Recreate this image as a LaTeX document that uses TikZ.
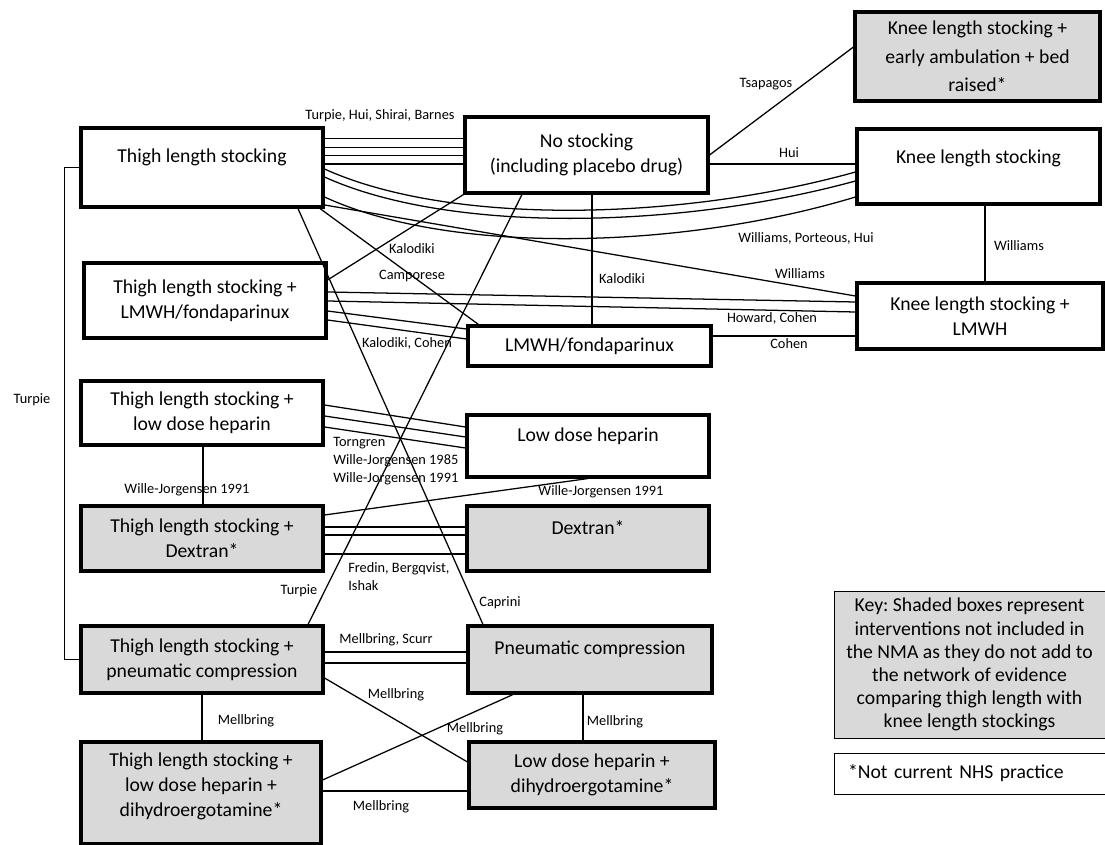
\documentclass[tikz,border=0pt]{standalone}
\usepackage{fontspec}
\setmainfont{Carlito}
\usetikzlibrary{calc}
\definecolor{shade}{HTML}{D9D9D9}
\frenchspacing
\tikzset{
	arm/.style 2 args={draw, line width=2.2pt, minimum width=#1*0.025cm, minimum height=#2*0.025cm, inner sep=0pt, align=center, font=\fontsize{14}{17.8}\selectfont},
	lift/.style={text depth=#1pt},
	lab/.style={font=\fontsize{10.2}{12.8}\selectfont, inner sep=0pt},
	link/.style={line width=0.9pt},
}
\begin{document}
\begin{tikzpicture}[x=0.025cm, y=-0.025cm]
	\useasboundingbox (0,0) rectangle (1105,845);
	% thigh length column
	\node[arm={242}{79},lift=17] (tls) at (202,167.5) {Thigh length stocking};
	\node[arm={242}{75}] (tlmwh) at (205,300.5) {Thigh length stocking +\\LMWH/fondaparinux};
	\node[arm={242}{64}] (tldh) at (202,413) {Thigh length stocking +\\low dose heparin};
	\node[arm={242}{65},fill=shade] (tdex) at (202,538.5) {Thigh length stocking +\\Dextran*};
	\node[arm={242}{67},fill=shade] (tpc) at (202,659.5) {Thigh length stocking +\\pneumatic compression};
	\node[arm={240}{102},fill=shade,lift=12] (tldhd) at (201,793) {Thigh length stocking +\\low dose heparin +\\dihydroergotamine*};
	% middle column
	\node[arm={243}{76}] (ns) at (586.5,155) {No stocking\\(including placebo drug)};
	\node[arm={243}{40}] (lmwh) at (589.5,346) {LMWH/fondaparinux};
	\node[arm={242}{62},lift=16.3] (ldh) at (588,446) {Low dose heparin};
	\node[arm={242}{65},fill=shade,lift=15.6] (dex) at (588,538.5) {Dextran*};
	\node[arm={244}{67},fill=shade,lift=17] (pc) at (590,659.5) {Pneumatic compression};
	\node[arm={246}{66},fill=shade] (ldhd) at (592,775) {Low dose heparin +\\dihydroergotamine*};
	% knee length column
	\node[arm={245}{89},fill=shade,font=\fontsize{14}{20.3}\selectfont] (kea) at (977.5,56.5) {Knee length stocking +\\early ambulation + bed\\raised*};
	\node[arm={243}{75},lift=14.2] (kls) at (978.5,166.5) {Knee length stocking};
	\node[arm={246}{66}] (klmwh) at (980,316) {Knee length stocking +\\LMWH};
	% key
	\node[arm={271}{147},fill=shade,line width=0.7pt,font=\fontsize{14}{16.4}\selectfont] (key) at (969.5,664.5) {Key: Shaded boxes represent\\interventions not included in\\the NMA as they do not add to\\the network of evidence\\comparing thigh length with\\knee length stockings};
	\node[draw,line width=0.7pt,minimum height=41*0.025cm,text width=243*0.025cm,inner xsep=14*0.025cm,inner ysep=0pt,align=left,font=\fontsize{14}{17.8}\selectfont] (nhs) at (969.5,773.5) {*Not current NHS practice};

	% connectors
	\foreach \d in {-29.2,-20.2,-11.8,-3.5}
		\draw[link] ($(tls.east)+(0,\d)$) coordinate (p) -- (p -| ns.west);
	\draw[link] ($(tls.east)+(0,1.5)$) .. controls (450,226) and (680,221) .. ($(kls.west)+(0,5.5)$);
	\draw[link] ($(tls.east)+(0,9.5)$) .. controls (450,234) and (680,229) .. ($(kls.west)+(0,14.5)$);
	\draw[link] ($(tls.east)+(0,29.5)$) .. controls (450,255) and (680,250) .. ($(kls.west)+(0,30.5)$);
	\draw[link] ($(tls.east)+(0,37.5)$) -- ($(klmwh.west)+(0,-20)$);
	\draw[link] ($(ns.east)+(0,9)$) coordinate (p) -- (p -| kls.west);
	\draw[link] (ns.east) -- ($(kea.west)+(0,-9.5)$);
	\draw[link] ($(kls.south)+(6.5,0)$) coordinate (p) -- (p |- klmwh.north);
	\draw[link] ($(ns.south)+(5.5,0)$) coordinate (p) -- (p |- lmwh.north);
	\draw[link] (ns.south west) -- ($(tlmwh.east)+(0,-20.5)$);
	\draw[link] ($(tls.south)+(118,0)$) -- ($(lmwh.north west)+(12,0)$);
	\draw[link] ($(tlmwh.east)+(0,-8.5)$) -- ($(klmwh.west)+(0,-14)$);
	\draw[link] ($(tlmwh.east)+(0,0.5)$) -- ($(klmwh.west)+(0,-4)$);
	\draw[link] ($(tlmwh.east)+(0,10.5)$) -- ($(lmwh.west)+(0,-17)$);
	\draw[link] ($(tlmwh.east)+(0,19.5)$) -- ($(lmwh.west)+(0,-7)$);
	\draw[link] ($(lmwh.east)+(0,-10)$) coordinate (p) -- (p -| klmwh.west);
	\draw[link] ($(tls.south)+(96,0)$) -- ($(pc.north)+(-107,0)$);
	\draw[link] ($(ns.south)+(-64.5,0)$) -- ($(tpc.north)+(106,0)$);
	\draw[link] ($(tldh.east)+(0,-8)$) -- ($(ldh.west)+(0,-19)$);
	\draw[link] ($(tldh.east)+(0,3)$) -- ($(ldh.west)+(0,-9)$);
	\draw[link] ($(tldh.east)+(0,14)$) -- ($(ldh.west)+(0,2)$);
	\draw[link] ($(tldh.south)+(1,0)$) coordinate (p) -- (p |- tdex.north);
	\draw[link] (ldh.south) -- ($(tdex.east)+(0,-23.5)$);
	\foreach \d in {-11.5,-3.5,15.5}
		\draw[link] ($(tdex.east)+(0,\d)$) coordinate (p) -- (p -| dex.west);
	\draw[link] (tls.west) -- ++(-15,0) |- (tpc.west);
	\foreach \d in {-7.5,3.5}
		\draw[link] ($(tpc.east)+(0,\d)$) coordinate (p) -- (p -| pc.west);
	\draw[link] (tpc.south) coordinate (p) -- (p |- tldhd.north);
	\draw[link] ($(tpc.east)+(0,18.5)$) -- ($(ldhd.west)+(0,-13)$);
	\draw[link] ($(pc.south)+(-77,0)$) -- ($(tldhd.east)+(0,-13)$);
	\draw[link] ($(pc.south)+(-7,0)$) coordinate (p) -- (p |- ldhd.north);
	\draw[link] ($(tldhd.east)+(0,-2)$) coordinate (p) -- (p -| ldhd.west);

	% study labels
	\node[lab] (sTurpieHui) at (380,116) {Turpie, Hui, Shirai, Barnes};
	\node[lab] (sTsapagos) at (766,84) {Tsapagos};
	\node[lab] (sHui) at (789,153) {Hui};
	\node[lab] (sWilliamsPH) at (806,238) {Williams, Porteous, Hui};
	\node[lab] (sWilliamsK) at (1019,246) {Williams};
	\node[lab] (sWilliamsD) at (800,274) {Williams};
	\node[lab] (sKalodikiN) at (412,249) {Kalodiki};
	\node[lab] (sCamporese) at (412,276) {Camporese};
	\node[lab] (sKalodikiV) at (622,279) {Kalodiki};
	\node[lab] (sHoward) at (772,318) {Howard, Cohen};
	\node[lab] (sKalCohen) at (407,343) {Kalodiki, Cohen};
	\node[lab] (sCohen) at (789,344) {Cohen};
	\node[lab] (sTurpieL) at (32,400) {Turpie};
	\node[lab,align=left,anchor=west] (sTorngren) at (333,461) {Torngren\\Wille-Jorgensen 1985\\Wille-Jorgensen 1991};
	\node[lab] (sWJleft) at (187,490) {Wille-Jorgensen 1991};
	\node[lab] (sWJright) at (601,492) {Wille-Jorgensen 1991};
	\node[lab,align=left,anchor=west] (sFredin) at (348,577) {Fredin, Bergqvist,\\Ishak};
	\node[lab] (sTurpieD) at (299,591) {Turpie};
	\node[lab] (sCaprini) at (500,603) {Caprini};
	\node[lab] (sScurr) at (386,640) {Mellbring, Scurr};
	\node[lab] (sMellA) at (396,695) {Mellbring};
	\node[lab] (sMellB) at (246,721) {Mellbring};
	\node[lab] (sMellC) at (615,722) {Mellbring};
	\node[lab] (sMellD) at (475,729) {Mellbring};
	\node[lab] (sMellE) at (381,807) {Mellbring};
\end{tikzpicture}
\end{document}
